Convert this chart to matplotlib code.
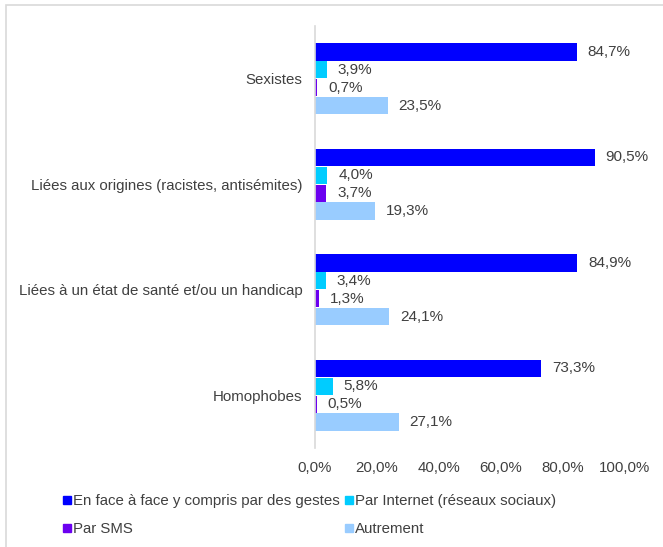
import matplotlib
matplotlib.use("Agg")
import matplotlib.pyplot as plt
from matplotlib.patches import Rectangle
from matplotlib.lines import Line2D
import numpy as np

plt.rcParams['font.family'] = ['Liberation Sans', 'DejaVu Sans']

categories = ["Sexistes", "Liées aux origines (racistes, antisémites)",
              "Liées à un état de santé et/ou un handicap", "Homophobes"]
series_names = ["En face à face y compris par des gestes", "Par Internet (réseaux sociaux)",
                "Par SMS", "Autrement"]
face = [84.7, 90.5, 84.9, 73.3]
internet = [3.9, 4.0, 3.4, 5.8]
sms = [0.7, 3.7, 1.3, 0.5]
autrement = [23.5, 19.3, 24.1, 27.1]
xticks = [0, 20, 40, 60, 80, 100]

series = [face, internet, sms, autrement]
colors = ["#0000FF", "#00CCFF", "#6B00F0", "#99CCFF"]
text_color = "#404040"

W, H = 663, 547
fig = plt.figure(figsize=(W / 100, H / 100), dpi=100)
ax = fig.add_axes([315 / W, 1 - 448 / H, (624 - 315) / W, (448 - 26) / H])

n = len(categories)
bh = 0.17
for i, (vals, col, name) in enumerate(zip(series, colors, series_names)):
    ys = np.arange(n) + (i - 1.5) * bh
    ax.barh(ys, vals, height=bh * 0.97, color=col, label=name)
    for y, v in zip(ys, vals):
        ax.text(v + 3.5, y, f"{v:.1f}%".replace(".", ","), va="center", ha="left",
                fontsize=11, color=text_color)

ax.set_ylim(n - 0.5, -0.5)
ax.set_xlim(0, 100)
ax.set_yticks(np.arange(n))
ax.set_yticklabels(categories, fontsize=10.8, color=text_color)
ax.set_xticks(xticks)
ax.set_xticklabels([f"{t:.1f}%".replace(".", ",") for t in xticks], fontsize=10.8, color=text_color)
ax.tick_params(axis="both", length=0)
ax.tick_params(axis="y", pad=9)
ax.tick_params(axis="x", pad=9)
for s in ["top", "right", "bottom"]:
    ax.spines[s].set_visible(False)
ax.spines["left"].set_color("#D9D9D9")
ax.spines["left"].set_linewidth(1.2)

# legend: two columns, row-major order
def make_handle(c):
    return Line2D([0], [0], marker="s", linestyle="none", markersize=5.8,
                  markerfacecolor=c, markeredgecolor=c)

cols = [(0, 2, 62), (1, 3, 344)]
for a, b, x0 in cols:
    leg = fig.legend([make_handle(colors[a]), make_handle(colors[b])],
                     [series_names[a], series_names[b]], loc="upper left",
                     bbox_to_anchor=(x0 / W, 1 - 494 / H), frameon=False,
                     fontsize=10.8, handlelength=0.7, handletextpad=0.05,
                     labelspacing=0.95, borderaxespad=0, borderpad=0)
    for t in leg.get_texts():
        t.set_color(text_color)

# chart border
fig.patches.append(Rectangle((6 / W, -0.1), 1.2, 1 - 5 / H + 0.1, transform=fig.transFigure,
                             fill=False, edgecolor="#D9D9D9", linewidth=1.2))

fig.savefig("out.png", dpi=100, facecolor="white")
